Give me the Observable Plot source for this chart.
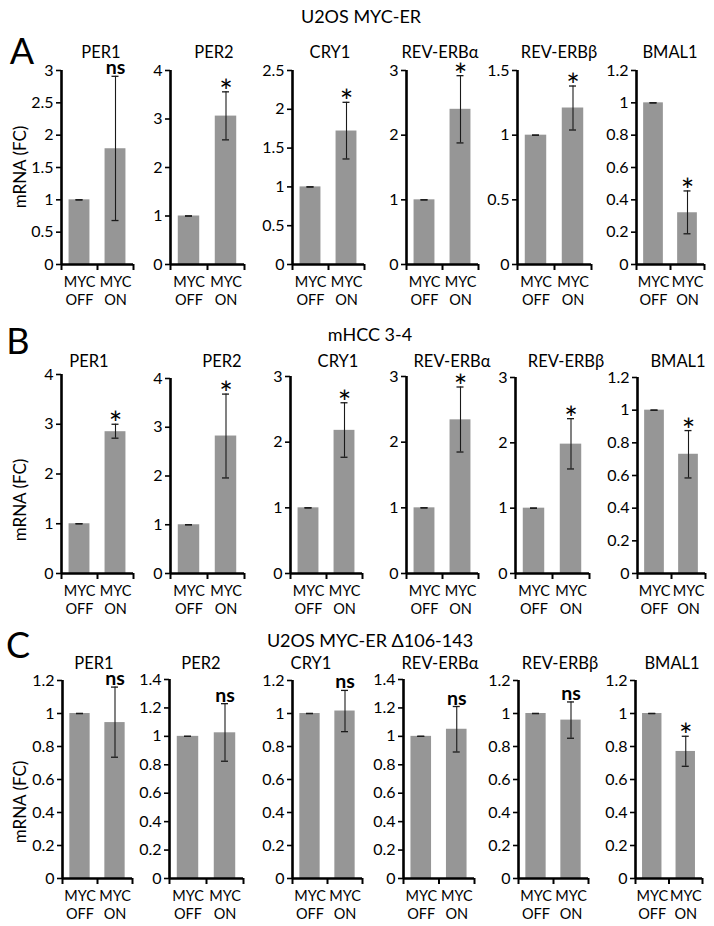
<!DOCTYPE html>
<html><head><meta charset="utf-8">
<script src="https://cdn.jsdelivr.net/npm/d3@7"></script>
<script src="https://cdn.jsdelivr.net/npm/@observablehq/plot@0.6"></script>
<style>
body{margin:0;background:#fff;}
#fig{position:relative;width:714px;height:926px;overflow:hidden;font-family:Lato,sans-serif;color:#000;background:#fff;}
.lbl{position:absolute;transform:translate(-50%,-50%);white-space:nowrap;line-height:1;}
.panel{position:absolute;}
</style></head><body><div id="fig"></div>
<script>
// ---- data ----
const rowTitles = ["U2OS MYC-ER", "mHCC 3-4", "U2OS MYC-ER Δ106-143"];
const rowLetters = ["A", "B", "C"];
const genes = ["PER1", "PER2", "CRY1", "REV-ERBα", "REV-ERBβ", "BMAL1"];
const conditions = ["MYC\nOFF", "MYC\nON"];
const yLabel = "mRNA (FC)";

const offA = [1, 1, 1, 1, 1, 1];
const onA = [1.79, 3.06, 1.72, 2.40, 1.21, 0.32];
const onLoA = [0.68, 2.57, 1.36, 1.88, 1.04, 0.19];
const onHiA = [2.91, 3.56, 2.09, 2.92, 1.38, 0.455];
const sigA = ["ns", "*", "*", "*", "*", "*"];
const yMaxA = [3, 4, 2.5, 3, 1.5, 1.2];
const yStepA = [0.5, 1, 0.5, 1, 0.5, 0.2];

const offB = [1, 1, 1, 1, 1, 1];
const onB = [2.85, 2.82, 2.18, 2.34, 1.98, 0.73];
const onLoB = [2.72, 1.96, 1.77, 1.85, 1.60, 0.585];
const onHiB = [3.00, 3.68, 2.60, 2.84, 2.37, 0.875];
const sigB = ["*", "*", "*", "*", "*", "*"];
const yMaxB = [4, 4, 3, 3, 3, 1.2];
const yStepB = [1, 1, 1, 1, 1, 0.2];

const offC = [1, 1, 1, 1, 1, 1];
const onC = [0.945, 1.025, 1.015, 1.05, 0.96, 0.77];
const onLoC = [0.735, 0.825, 0.89, 0.89, 0.85, 0.68];
const onHiC = [1.16, 1.23, 1.14, 1.21, 1.07, 0.862];
const sigC = ["ns", "ns", "ns", "ns", "ns", "*"];
const yMaxC = [1.2, 1.4, 1.2, 1.4, 1.2, 1.2];
const yStepC = [0.2, 0.2, 0.2, 0.2, 0.2, 0.2];

const rowsData = [
  {off: offA, on: onA, lo: onLoA, hi: onHiA, sig: sigA, yMax: yMaxA, yStep: yStepA},
  {off: offB, on: onB, lo: onLoB, hi: onHiB, sig: sigB, yMax: yMaxB, yStep: yStepB},
  {off: offC, on: onC, lo: onLoC, hi: onHiC, sig: sigC, yMax: yMaxC, yStep: yStepC}
];

// ---- layout (pixels) ----
const layout = [
  {lefts:[61,170,292,406,517,636], widths:[72,74,72,72,74,68], tops:[70,70,70,70,70,70], zero:264,
   titleY:52, titleX:[101,214,330,440,559,670], rowTitleX:361, rowTitleY:16, letterX:22, letterY:49.5, yLabelY:167},
  {lefts:[61,170,290,406,515,637], widths:[72,74,72,72,74,68], tops:[374,378,376,376,377,377], zero:573,
   titleY:361, titleX:[89,222,338,452,566,678], rowTitleX:370, rowTitleY:334, letterX:18, letterY:340, yLabelY:500},
  {lefts:[62,169,292,403,518,635], widths:[70,74,70,71,70,67], tops:[680,679,680,679,680,680], zero:878,
   titleY:663, titleX:[94,201,311,440,560,672], rowTitleX:370, rowTitleY:640, letterX:18, letterY:644, yLabelY:802}
];

const fig = document.getElementById("fig");
function addLabel(text, x, y, style) {
  const d = document.createElement("div");
  d.className = "lbl";
  d.textContent = text;
  d.style.left = x + "px";
  d.style.top = y + "px";
  Object.assign(d.style, style || {});
  fig.appendChild(d);
}

const mL = 42, mR = 6, mT = 12, mB = 44;
const barColor = "#969696";

rowsData.forEach((R, r) => {
  const L = layout[r];
  addLabel(rowTitles[r], L.rowTitleX, L.rowTitleY, {fontSize: "18px"});
  addLabel(rowLetters[r], L.letterX, L.letterY, {fontSize: "36px"});
  addLabel(yLabel, 19, L.yLabelY, {fontSize: "17px", transform: "translate(-50%,-50%) rotate(-90deg)"});
  genes.forEach((gene, g) => {
    addLabel(gene, L.titleX[g], L.titleY, {fontSize: "16.5px"});
    const w = L.widths[g], h = L.zero - L.tops[g];
    const step = w / 2;
    const data = [
      {i: 0, cond: conditions[0], v: R.off[g], lo: R.off[g], hi: R.off[g]},
      {i: 1, cond: conditions[1], v: R.on[g], lo: R.lo[g], hi: R.hi[g], sig: R.sig[g]}
    ];
    const nT = Math.round(R.yMax[g] / R.yStep[g]);
    const ticks = d3.range(nT + 1).map(k => +(k * R.yStep[g]).toFixed(2));
    const sig = R.sig[g];
    const isStar = sig === "*";
    const barInset = step * 0.21;
    const capInset = (step - 7) / 2;
    const svg = Plot.plot({
      width: mL + w + mR, height: mT + h + mB,
      marginLeft: mL, marginRight: mR, marginTop: mT, marginBottom: mB,
      style: {background: "transparent", overflow: "visible", fontFamily: "Lato, sans-serif", color: "#000"},
      x: {type: "linear", domain: [0, 2]},
      y: {domain: [0, R.yMax[g]]},
      marks: [
        Plot.rectY(data, {x1: "i", x2: d => d.i + 1, y1: 0, y2: "v", fill: barColor, insetLeft: barInset, insetRight: barInset}),
        Plot.ruleX(data, {x: d => d.i + 0.5, y1: "lo", y2: "hi", stroke: "#1a1a1a", strokeWidth: 1.1}),
        Plot.ruleY(data, {y: "hi", x1: "i", x2: d => d.i + 1, insetLeft: capInset, insetRight: capInset, stroke: "#1a1a1a", strokeWidth: 1.3}),
        Plot.ruleY(data, {y: "lo", x1: "i", x2: d => d.i + 1, insetLeft: capInset, insetRight: capInset, stroke: "#1a1a1a", strokeWidth: 1.3}),
        Plot.axisY({ticks, tickFormat: d => String(+d.toFixed(2)), tickSize: 5, tickPadding: 3, fontSize: 16, strokeWidth: 1.6, label: null}),
        Plot.axisX({ticks: [0, 1, 2], tickSize: 6, tickFormat: () => "", strokeWidth: 2, label: null}),
        Plot.ruleY([0], {stroke: "#000", strokeWidth: 2.6}),
        Plot.ruleX([0], {stroke: "#000", strokeWidth: 2.6}),
        Plot.text(data, {x: d => d.i + 0.5, text: "cond", frameAnchor: "bottom", lineAnchor: "top", dy: 10, fontSize: 14.5, lineHeight: 1.25}),
        Plot.text([data[1]], {x: d => d.i + 0.5, y: "hi", text: "sig", lineAnchor: "bottom",
          dy: isStar ? 11 : -2, fontSize: isStar ? 32 : 19.5, fontWeight: isStar ? "normal" : "bold"})
      ]
    });
    svg.classList.add("panel");
    svg.style.left = (L.lefts[g] - mL) + "px";
    svg.style.top = (L.tops[g] - mT) + "px";
    fig.appendChild(svg);
  });
});
</script></body></html>
